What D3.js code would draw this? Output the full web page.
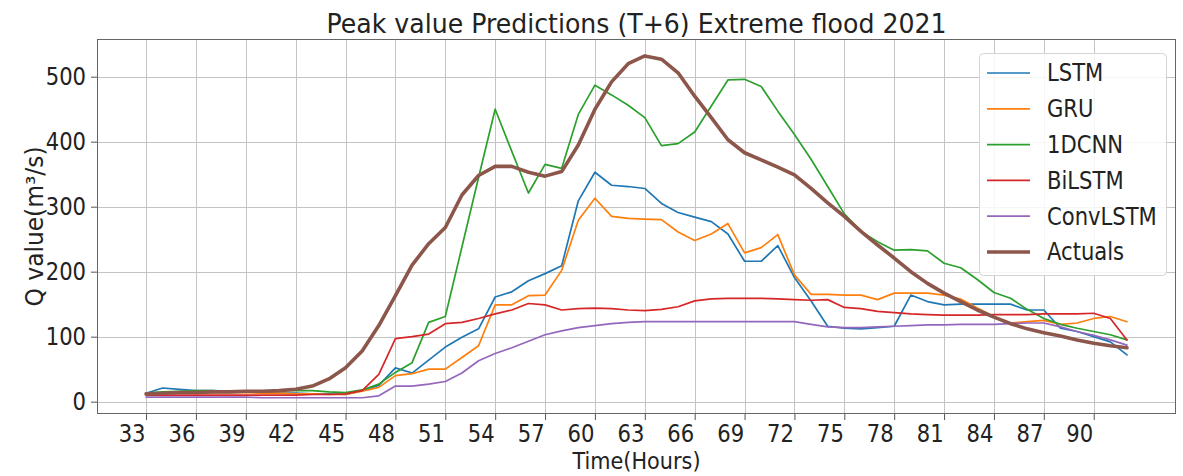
<!DOCTYPE html>
<html>
<head>
<meta charset="utf-8">
<script src="https://cdn.jsdelivr.net/npm/d3@7"></script>
<style>
  html, body { margin: 0; padding: 0; background: #fff; }
  svg { display: block; font-family: "DejaVu Sans", sans-serif; }
</style>
</head>
<body>
<svg id="chart" width="1183" height="476"></svg>
<script>
// Hourly peak-flow predictions, hours 33..92
const hours = d3.range(33, 93);

const lstm = [13, 21, 19, 17, 17, 16, 15, 14, 13, 13, 12, 12, 11, 17, 25, 52, 44, 64, 84, 99,
  112, 161, 169, 186, 197, 209, 309, 353, 333, 331, 328, 305, 291, 284, 277, 258, 216, 216, 240, 191,
  155, 116, 113, 112, 114, 116, 164, 154, 149, 150, 150, 150, 150, 141, 141, 113, 108, 100, 92, 72];

const gru = [12, 13, 13, 14, 14, 14, 14, 13, 13, 12, 12, 11, 11, 16, 22, 40, 43, 50, 50, 68,
  86, 149, 149, 163, 164, 202, 279, 313, 285, 282, 281, 280, 261, 248, 258, 274, 229, 237, 257, 195,
  165, 165, 164, 164, 157, 167, 167, 167, 164, 158, 144, 131, 121, 123, 125, 119, 121, 128, 131, 123];

const cnn1d = [13, 15, 16, 17, 17, 16, 16, 16, 17, 17, 17, 15, 14, 18, 27, 45, 60, 122, 131, 238,
  345, 450, 385, 321, 365, 359, 442, 487, 472, 456, 437, 394, 397, 415, 455, 495, 496, 485, 447, 411,
  373, 331, 289, 262, 246, 233, 234, 232, 213, 206, 188, 168, 159, 142, 128, 119, 113, 108, 103, 95];

const bilstm = [10, 10, 10, 10, 10, 10, 10, 10, 10, 10, 11, 11, 12, 17, 42, 97, 100, 104, 120, 122,
  128, 135, 141, 151, 149, 141, 143, 144, 143, 141, 140, 142, 146, 155, 158, 159, 159, 159, 158, 157,
  156, 157, 145, 143, 139, 137, 135, 134, 133, 133, 133, 134, 134, 134, 135, 135, 135, 136, 128, 95];

const convlstm = [7, 7, 7, 7, 7, 7, 7, 6, 6, 6, 6, 6, 6, 6, 9, 24, 24, 27, 31, 44,
  63, 74, 83, 93, 103, 109, 114, 117, 120, 122, 123, 123, 123, 123, 123, 123, 123, 123, 123, 123,
  119, 115, 114, 114, 115, 116, 117, 118, 118, 119, 119, 119, 120, 121, 121, 115, 108, 102, 95, 87];

const actuals = [12, 13, 14, 14, 15, 15, 16, 16, 17, 19, 24, 35, 52, 78, 117, 163, 210, 243, 268, 318,
  348, 362, 362, 353, 347, 354, 395, 450, 492, 520, 532, 527, 506, 470, 437, 403, 383, 372, 361, 349,
  328, 306, 285, 262, 241, 221, 200, 182, 167, 154, 141, 130, 120, 112, 106, 101, 95, 90, 86, 83];

const seriesNames = ["LSTM", "GRU", "1DCNN", "BiLSTM", "ConvLSTM", "Actuals"];
const seriesValues = [lstm, gru, cnn1d, bilstm, convlstm, actuals];
const seriesColors = ["#1f77b4", "#ff7f0e", "#2ca02c", "#d62728", "#9467bd", "#8c564b"];

const xTicks = d3.range(33, 91, 3);
const yTicks = [0, 100, 200, 300, 400, 500];
const yLimits = [-19, 558];

const titleText = "Peak value Predictions (T+6) Extreme flood 2021";
const xLabel = "Time(Hours)";
const yLabel = "Q value(m\u00b3/s)";

// ---- layout ----
const plot = { left: 97, right: 1176, top: 39, bottom: 414 };
const squeeze = 0.88;          // horizontal text compression
const fontSize = 24;

const svg = d3.select("#chart");

const xPad = (d3.max(hours) - d3.min(hours)) * 0.05;
const x = d3.scaleLinear()
  .domain([d3.min(hours) - xPad, d3.max(hours) + xPad])
  .range([plot.left, plot.right]);
const y = d3.scaleLinear().domain(yLimits).range([plot.bottom, plot.top]);

// grid
const grid = svg.append("g").attr("stroke", "#c4c4c4").attr("stroke-width", 1);
grid.selectAll("line.gx").data(xTicks).join("line")
  .attr("x1", d => Math.round(x(d)) + 0.5).attr("x2", d => Math.round(x(d)) + 0.5)
  .attr("y1", plot.top).attr("y2", plot.bottom);
grid.selectAll("line.gy").data(yTicks).join("line")
  .attr("y1", d => Math.round(y(d)) + 0.5).attr("y2", d => Math.round(y(d)) + 0.5)
  .attr("x1", plot.left).attr("x2", plot.right);

// series lines
const line = d3.line().x((d, i) => x(hours[i])).y(d => y(d));
const lines = svg.append("g").attr("fill", "none")
  .attr("stroke-linejoin", "round").attr("stroke-linecap", "round");
seriesValues.forEach((vals, k) => {
  lines.append("path")
    .attr("d", line(vals))
    .attr("stroke", seriesColors[k])
    .attr("stroke-width", seriesNames[k] === "Actuals" ? 3.6 : 1.7);
});

// axes
const xAxis = svg.append("g")
  .attr("transform", `translate(0,${plot.bottom})`)
  .call(d3.axisBottom(x).tickValues(xTicks).tickSize(6).tickSizeOuter(0).tickPadding(5));
xAxis.selectAll("text")
  .attr("text-anchor", "end")
  .attr("x", -1 / squeeze)
  .attr("transform", `scale(${squeeze},1)`);

const yAxis = svg.append("g")
  .attr("transform", `translate(${plot.left},0)`)
  .call(d3.axisLeft(y).tickValues(yTicks).tickSize(6).tickSizeOuter(0).tickPadding(5));
yAxis.selectAll("text")
  .attr("x", -11 / squeeze)
  .attr("transform", `scale(${squeeze},1)`);

[xAxis, yAxis].forEach(a => {
  a.select(".domain").remove();
  a.selectAll("text").attr("font-size", fontSize).attr("fill", "#222")
    .attr("font-family", "DejaVu Sans, sans-serif");
  a.selectAll("line").attr("stroke", "#555");
});

// frame
svg.append("rect")
  .attr("x", plot.left + 0.5).attr("y", plot.top + 0.5)
  .attr("width", plot.right - plot.left - 1).attr("height", plot.bottom - plot.top - 1)
  .attr("fill", "none").attr("stroke", "#666").attr("stroke-width", 1);

// title and axis labels
svg.append("text")
  .attr("x", (plot.left + plot.right) / 2).attr("y", 33)
  .attr("text-anchor", "middle").attr("font-size", 26).attr("fill", "#222")
  .attr("textLength", 620).attr("lengthAdjust", "spacingAndGlyphs")
  .text(titleText);

svg.append("text")
  .attr("x", (plot.left + plot.right) / 2).attr("y", 469)
  .attr("text-anchor", "middle").attr("font-size", 23).attr("fill", "#222")
  .attr("textLength", 128).attr("lengthAdjust", "spacingAndGlyphs")
  .text(xLabel);

svg.append("text")
  .attr("transform", `translate(43,${(plot.top + plot.bottom) / 2}) rotate(-90)`)
  .attr("text-anchor", "middle").attr("font-size", fontSize).attr("fill", "#222")
  .attr("textLength", 160).attr("lengthAdjust", "spacingAndGlyphs")
  .text(yLabel);

// legend
const legend = svg.append("g");
const lgBox = { x: 979, y: 53, w: 187, h: 222 };
legend.append("rect")
  .attr("x", lgBox.x + 0.5).attr("y", lgBox.y + 0.5)
  .attr("width", lgBox.w).attr("height", lgBox.h)
  .attr("rx", 4).attr("fill", "#fff").attr("fill-opacity", 0.85)
  .attr("stroke", "#d4d4d4").attr("stroke-width", 1);
const rowY = d3.scalePoint().domain(seriesNames).range([73, 252]);
const rows = legend.selectAll("g.row").data(seriesNames).join("g")
  .attr("transform", d => `translate(0,${rowY(d)})`);
rows.append("line")
  .attr("x1", 987).attr("x2", 1030)
  .attr("stroke", (d, i) => seriesColors[i])
  .attr("stroke-width", d => d === "Actuals" ? 3.6 : 1.7);
rows.append("text")
  .attr("x", 1047 / squeeze).attr("dy", "0.35em")
  .attr("transform", `scale(${squeeze},1)`)
  .attr("font-size", fontSize).attr("fill", "#222")
  .text(d => d);
</script>
</body>
</html>
